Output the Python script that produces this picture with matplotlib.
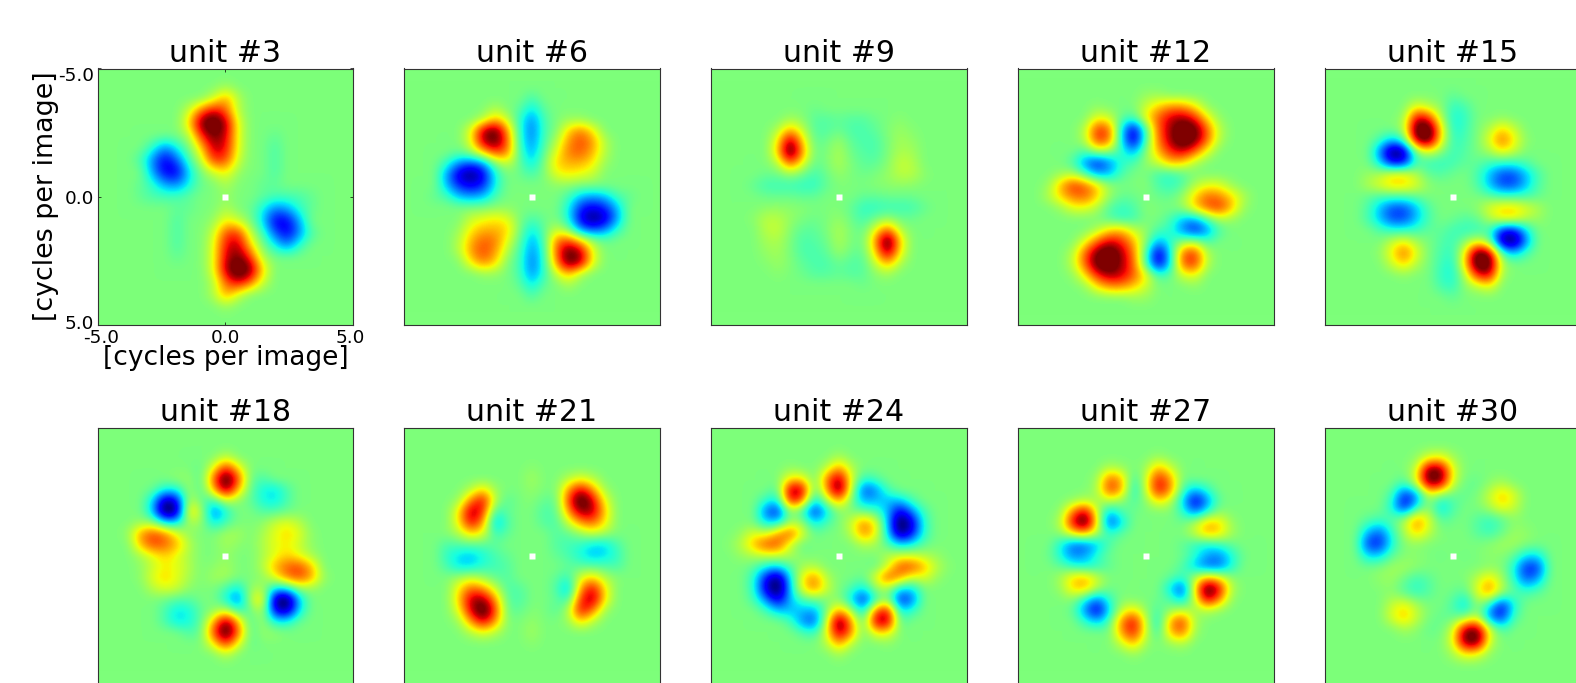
import numpy as np
import matplotlib
matplotlib.use('Agg')
import matplotlib.pyplot as plt
from matplotlib.transforms import ScaledTranslation

# tuning maps, coarse grid, top half down to the centre row
# (the maps are point symmetric so the lower half comes from the upper one)
blank = [0] * 21

unit_3 = [
    blank,
    [0,0,0,0,0, 0,0,0,0,0, .5, 0,0,0,0,0, 0,0,0,0,0],
    [0,0,0,0,0, 0,0,0,0,1.5, 4, 1,0,0,0,0, 0,0,0,0,0],
    [0,0,0,0,0, 0,0,1.5,5,7, 5, 1,0,0,0,0, 0,0,0,0,0],
    [0,0,0,0,0, 0,0,3,8.5,10, 7.5, 2,0,0,0,0, 0,0,0,0,0],
    [0,0,0,0,0, 0,0,1,6,8.5, 7, 2,0,0,-.5,0, 0,0,0,0,0],
    [0,0,0,0,-1.5, -4,-2,0,3,7.5, 6.5, 2,0,0,-1,0, 0,0,0,0,0],
    [0,0,0,-1,-4, -6.5,-4.5,-1,1.5,6, 5.5, 1.5,0,0,-1,0, 0,0,0,0,0],
    [0,0,0,0,-3.5, -6.5,-6.5,-2.5,0,1.5, 2.5, .5,0,0,-1,0, 0,0,0,0,0],
    [0,0,0,-.5,-1.5, -3.5,-4,-2,-.3,0, 1, 0,0,-.5,-.5,0, 0,0,0,0,0],
    [0,0,0,-.5,-1, -1,-1,-.5,0,0, .5, 0,0,-.5,-1,-1, -1,-.5,0,0,0],
]
unit_6 = [
    blank,
    [0,0,0,0,0, 0,0,0,0,0, -1, 0,0,0,0,0, 0,0,0,0,0],
    [0,0,0,0,0, 0,0,1,0,-.5, -2.5, -.5,0,0,0,0, 0,0,0,0,0],
    [0,0,0,0,0, 0,1,3.5,1.5,-1.5, -4, -1,0,.5,.5,0, 0,0,0,0,0],
    [0,0,0,0,0, 2,7.5,9,4,-1.5, -4.5, -1,0,3,4.5,2.5, 0,0,0,0,0],
    [0,0,0,0,0, 2,7.5,9,5,-1.5, -4, -1,1,4,5.5,4, 1,0,0,0,0],
    [0,0,0,0,-.5, .5,3,5.5,4.5,-1, -3.5, -.5,2,4.5,5,3.5, 1,0,0,0,0],
    [0,0,0,-1.5,-4, -5,-4,0,1.5,-.5, -2.5, 0,3,3.5,3.5,2.5, .5,0,0,0,0],
    [0,0,0,-3.5,-7, -8.5,-6.5,-2,0,-.3, -1, 0,2,2.5,2,1.5, 0,0,0,0,0],
    [0,0,0,-3,-5.5, -6.5,-5.5,-2,0,0, 0, 0,.3,.3,0,0, 0,0,0,0,0],
    [0,0,-.5,-1,-3, -3.5,-3,-1,0,0, 0, 0,0,-1,-3,-3.5, -3,-1,-.5,0,0],
]
unit_9 = [
    blank,
    blank,
    [0,0,0,0,0, 0,0,0,-.3,0, 0, 0,0,0,0,0, 0,0,0,0,0],
    [0,0,0,0,0, 0,.8,.3,-.7,-.8, -.5, -.8,-.8,-.3,0,.3, 0,0,0,0,0],
    [0,0,0,0,0, 1,4,1.5,-.8,-.8, -.3, -1,-1,-.6,.1,.6, .2,0,0,0,0],
    [0,0,0,0,0, 2.5,8.5,3,-.5,-.3, .7, -.6,-1,-1,0,.8, .5,0,0,0,0],
    [0,0,0,0,0, 3,10,4,-.3,0, 1, -.3,-.8,-1,0,1, .8,0,0,0,0],
    [0,0,0,0,0, 1,5,2,-.5,0, 1, 0,-.6,-.6,.2,1.5, 1.2,0,0,0,0],
    [0,0,0,0,-.3, -.3,.5,-.3,-1.2,-.3, .5, 0,-.3,0,.5,1.2, 1.2,.3,0,0,0],
    [0,0,0,-.5,-1.2, -1.3,-1.3,-1.5,-1.5,-.5, .1, 0,0,.2,.3,.4, .3,0,0,0,0],
    [0,0,0,0,-.3, -.3,-.3,-.5,-.5,0, 0, 0,-.5,-.5,-.3,-.3, -.3,0,0,0,0],
]
unit_12 = [
    blank,
    [0,0,0,0,0, 0,0,0,0,0, .5, .5,0,0,0,0, 0,0,0,0,0],
    [0,0,0,0,0, 0,.3,0,0,0, 1.5, 3,4,4,2.5,.3, 0,0,0,0,0],
    [0,0,0,0,0, 0,2,1.5,-.5,-1, 2.5, 5,7,7.5,6,2.5, .3,0,0,0,0],
    [0,0,0,0,0, 1,6,5,-2.5,-7, -1, 5,7.5,10,9,5, 1.2,0,0,0,0],
    [0,0,0,0,0, 1,6,5,-2.5,-7.5, -1, 4.5,7.5,10,8.5,5, 1,0,0,0,0],
    [0,0,0,0,0, -1,1,.5,-1.5,-3.5, .3, 3.5,6,7,5,2, 0,0,0,0,0],
    [0,0,0,0,-1, -4,-6,-4,-1.5,-1, .5, 1.5,3.5,3,1,0, 0,0,0,0,0],
    [0,0,0,.5,1, -1,-3.5,-3,-1,0, 0, -1.2,-1.5,-.8,0,0, 0,0,0,0,0],
    [0,0,.5,3.5,6, 5,3,.5,0,0, .3, -1,-1.5,-.8,1,2, 2,.5,0,0,0],
    [0,0,1,3,4.5, 5,3,.5,-.5,-.3, 0, -.3,-.5,.5,3,5, 4.5,3,1,0,0],
]
unit_15 = [
    blank,
    [0,0,0,0,0, 0,0,0,0,0, -.5, 0,0,0,0,0, 0,0,0,0,0],
    [0,0,0,0,0, 0,0,2,1,.3, -1.5, -1,0,0,0,0, 0,0,0,0,0],
    [0,0,0,0,0, 0,.5,7,6,1, -2, -1.5,0,0,.3,0, 0,0,0,0,0],
    [0,0,0,0,0, 0,1,9.5,10,3, -2, -1.2,0,1,3,1.5, 0,0,0,0,0],
    [0,0,0,0,-1, -3,-1,8,9.5,2.5, -1.5, -1,0,2,5,2.5, .3,0,0,0,0],
    [0,0,0,0,-4, -9,-8,0,2,.3, -1.3, -.8,0,.8,2.5,1.5, 0,0,0,0,0],
    [0,0,0,0,-2.5, -6.5,-6,-1,-1.5,-1.5, -1.2, -.5,-.5,-1.2,-1.5,-1.5, -.8,0,0,0,0],
    [0,0,0,.5,1, 2.5,2.5,1,-.5,-.8, -.3, 0,-1,-3,-5,-5, -3,-1,0,0,0],
    [0,0,0,1,2, 3,3,2,.3,0, 0, 0,-.8,-3,-5,-5, -3,-.8,0,0,0],
    [0,0,0,-.5,-1, -1,-1,-.5,0,0, 0, 0,0,-.5,-1,-1, -1,-.5,0,0,0],
]
unit_18 = [
    blank,
    [0,0,0,0,0, 0,0,0,0,0, 1.2, 0,0,0,0,0, 0,0,0,0,0],
    [0,0,0,0,0, 0,0,0,-.5,2, 6, 2.5,0,0,0,0, 0,0,0,0,0],
    [0,0,0,0,0, 0,.5,.5,-.8,5, 10, 5.5,-.3,-1,0,0, 0,0,0,0,0],
    [0,0,0,0,-.3, -2,-2,.8,-1,3.5, 8.5, 3.5,-.5,-2,-2.5,-1, 0,0,0,0,0],
    [0,0,0,0,-2.5, -8,-6.5,1.5,-.5,-1.5, 1.5, .3,-.5,-2,-2.5,-1, 0,0,0,0,0],
    [0,0,0,0,-3, -9.5,-8,3.5,1,-4.5, -2, 0,0,-.8,-.8,-.3, 0,0,0,0,0],
    [0,0,0,.5,.5, -2.5,-2.5,1,.5,-2.5, -1, 0,0,.3,1.5,2, 1.2,0,0,0,0],
    [0,0,.5,4,5.5, 4.5,2,.3,0,0, .8, .8,0,.8,2,3, 2,.3,0,0,0],
    [0,0,0,3.5,5.5, 5,3.5,1,0,0, .8, .3,0,1,2,2.5, 1.5,.3,0,0,0],
    [0,0,0,.8,2, 3,2,.8,0,0, .5, 0,0,.8,2,3, 2,.8,0,0,0],
]
unit_21 = [
    blank,
    blank,
    [0,0,0,0,0, 0,0,0,0,0, .3, 0,0,0,0,0, 0,0,0,0,0],
    [0,0,0,0,0, 0,0,0,0,0, .8, 0,0,1,2,1, 0,0,0,0,0],
    [0,0,0,0,0, 1,3,.5,0,0, .5, 0,0,4,7,4, .5,0,0,0,0],
    [0,0,0,0,.5, 4.5,7,1,-.8,0, .2, -.5,-.5,5.5,10,7, 2,0,0,0,0],
    [0,0,0,0,2.5, 8,6,-1.5,-.5,0, 0, -1,-.7,4,8,7.5, 3,0,0,0,0],
    [0,0,0,0,2.5, 7,4,-3.5,-.8,0, 0, -.8,-1,1.5,4,5, 2.5,0,0,0,0],
    [0,0,0,.2,1, 3,2,-1.5,-.5,0, 0, 0,-.8,-.5,.5,1.5, .8,0,0,0,0],
    [0,0,0,-1,-.8, -.6,-.6,-.5,0,-.1, 0, 0,-.8,-1.2,-1.5,-2.5, -2.5,-1,0,0,0],
    [0,0,0,-1.5,-2.5, -3,-2,-1,-.5,0, 0, 0,-.5,-1,-2,-3, -2.5,-1.5,0,0,0],
]
unit_24 = [
    blank,
    [0,0,0,0,0, 0,0,0,0,0, .8, 0,0,0,0,0, 0,0,0,0,0],
    [0,0,0,0,0, 0,.3,0,0,1, 4, 1,0,0,0,0, 0,0,0,0,0],
    [0,0,0,0,0, 0,2.5,2.5,-.5,4.5, 8, 2,-1.5,-.8,0,0, 0,0,0,0,0],
    [0,0,0,0,0, -.8,8,7.5,-1,4, 9.5, 1.5,-5,-4,-1,0, 0,0,0,0,0],
    [0,0,0,0,-1.5, -2.5,7,5,-3,1, 4, 0,-3.5,-3,-3,-3, -1,0,0,0,0],
    [0,0,0,0,-4.5, -6,.5,-1.5,-6,-2.5, .3, 0,-.3,-1,-3,-7, -4,-1,0,0,0],
    [0,0,0,0,-2.5, -2.5,1,.5,-2.5,-1, 0, 1.5,4.5,2.5,-3,-9.5, -7,-1.5,0,0,0],
    [0,0,.5,2,1.5, 4,5.5,2,-.5,0, 0, 1,4.5,2.5,-2.5,-8.5, -6,-1.5,0,0,0],
    [0,.2,1.2,3.5,5.5, 5.5,1.5,-.5,0,0, 0, 0,1,.8,-.8,-2.5, -2,-.5,0,0,0],
    [0,0,.5,1,1.5, 1.5,1,0,0,0, 0, 0,0,0,1,1.5, 1.5,1,.5,0,0],
]
unit_27 = [
    blank,
    [0,0,0,0,0, 0,0,0,0,0, 0, .5,0,0,0,0, 0,0,0,0,0],
    [0,0,0,0,0, 0,0,1,.5,0, .5, 3.5,1.5,0,0,0, 0,0,0,0,0],
    [0,0,0,0,0, 0,.5,5,3.5,-1.5, 1.5, 6.5,4,-.2,0,0, 0,0,0,0,0],
    [0,0,0,0,0, 0,.8,6,4,-2.5, 1.5, 7,4.5,-1,-3,-1.5, 0,0,0,0,0],
    [0,0,0,0,.3, 1,.5,1.5,.5,-1, .3, 3,1.5,-2.5,-7,-4, -.5,0,0,0,0],
    [0,0,0,.3,4.5, 7.5,1.5,-3,-.8,-.3, 0, 0,.2,-1.5,-4.5,-2, .3,0,0,0,0],
    [0,0,0,1,7, 10,2.5,-5.5,-2.5,0, 0, 0,0,-.3,1,3.5, 3,.5,0,0,0],
    [0,0,0,.3,2.5, 3.5,1,-1.5,-.5,0, 0, 0,0,0,1.5,3.5, 3,.8,0,0,0],
    [0,0,0,-2,-4.5, -4.5,-3,-.8,0,0, 0, 0,0,-.5,-1.5,-2, -1.5,-.5,0,0,0],
    [0,0,-.2,-2,-4, -3.5,-1.5,-.3,0,0, 0, 0,0,-.3,-1.5,-3.5, -4,-2,-.2,0,0],
]
unit_30 = [
    blank,
    blank,
    [0,0,0,0,0, 0,0,.3,2,2.5, .8, 0,0,0,0,0, 0,0,0,0,0],
    [0,0,0,0,0, 0,0,1.5,9.5,9, 2, 0,0,0,0,0, 0,0,0,0,0],
    [0,0,0,0,0, 0,-1,2,8.5,8, 1.5, -.3,-.5,.3,.8,0, 0,0,0,0,0],
    [0,0,0,0,0, -1,-6,-4.5,1.5,-.3, -.5, -.5,0,1.5,3.5,2, 0,0,0,0,0],
    [0,0,0,0,0, -2,-6.5,-2,.5,-3, -1, 0,0,1,2.5,1.5, 0,0,0,0,0],
    [0,0,0,-.5,-1, -.5,1,4.5,2,-.8, -.3, 0,-.8,-1.5,-.8,.3, 0,0,0,0,0],
    [0,0,0,-3,-4.5, -1.5,1,3.5,1.5,0, 0, 0,-.8,-1.5,-.5,.6, .4,0,0,0,0],
    [0,0,0,-5.5,-6, -2,.2,.3,0,0, 0, 0,0,.3,.8,.8, .3,0,0,0,0],
    [0,0,0,-2.5,-2.5, -.5,.2,.3,0,-.2, 0, -.2,0,.3,.2,-.5, -2.5,-2.5,0,0,0],
]

unit_names = ['unit #3', 'unit #6', 'unit #9', 'unit #12', 'unit #15',
              'unit #18', 'unit #21', 'unit #24', 'unit #27', 'unit #30']
unit_maps = [unit_3, unit_6, unit_9, unit_12, unit_15,
             unit_18, unit_21, unit_24, unit_27, unit_30]
tick_values = [-5.0, 0.0, 5.0]
tick_labels = ['-5.0', '0.0', '5.0']

W, H = 1576, 683
fig = plt.figure(figsize=(W / 100, H / 100), dpi=100)

lefts = [97.5, 404, 711, 1018, 1325]
tops = [68.5, 428]
size = 256
# row pitch differs between maps: half height of the grid in axis units
row_span = [5, 4.5, 4.5, 4.62, 4.62, 4.5, 4.5, 4.5, 4.5, 5]


def shift(label, dx, dy):
    # move a tick label by some pixels
    label.set_transform(label.get_transform() + ScaledTranslation(dx / 100, dy / 100, fig.dpi_scale_trans))


for i, (name, half) in enumerate(zip(unit_names, unit_maps)):
    half = np.array(half, dtype=float)
    grid = np.vstack([half, half[:-1][::-1, ::-1]])
    left = lefts[i % 5]
    top = tops[i // 5]
    ax = fig.add_axes([left / W, 1 - (top + size) / H, size / W, size / H])
    ax.set_facecolor(plt.cm.jet(0.5))
    ax.imshow(grid, cmap='jet', vmin=-8, vmax=8, extent=(-5, 5, row_span[i], -row_span[i]),
              interpolation='bicubic', aspect='auto')
    # the DC pixel is blanked out in the maps
    ax.plot([0], [0], marker='s', ms=4.2, mec='none', color='white')
    ax.set_xlim(-5, 5)
    ax.set_ylim(5, -5)
    ax.set_title(name, fontsize=21.6, y=1.0, pad=5)
    for s in ax.spines.values():
        s.set_linewidth(0.8)
        s.set_color('#333333')
    if i == 0:
        ax.set_xticks(tick_values)
        ax.set_xticklabels(tick_labels, fontsize=13.3)
        ax.set_yticks(tick_values)
        ax.set_yticklabels(tick_labels, fontsize=13.3)
        ax.tick_params(direction='in', length=2, width=0.5, pad=3, top=True, right=True)
        ax.tick_params(axis='y', pad=2.5)
        # end labels sit a bit inside the axes corners in the original
        ylabs = ax.get_yticklabels()
        shift(ylabs[0], 0, -5.5)
        shift(ylabs[2], 0, 3)
        xlabs = ax.get_xticklabels()
        shift(xlabs[0], 3.5, 0)
        shift(xlabs[2], -3.5, 0)
        ax.set_xlabel('[cycles per image]', fontsize=19, labelpad=-1)
        ax.set_ylabel('[cycles per image]', fontsize=19.4, labelpad=-1)
    else:
        ax.set_xticks([])
        ax.set_yticks([])

fig.savefig('out.png', dpi=100)
